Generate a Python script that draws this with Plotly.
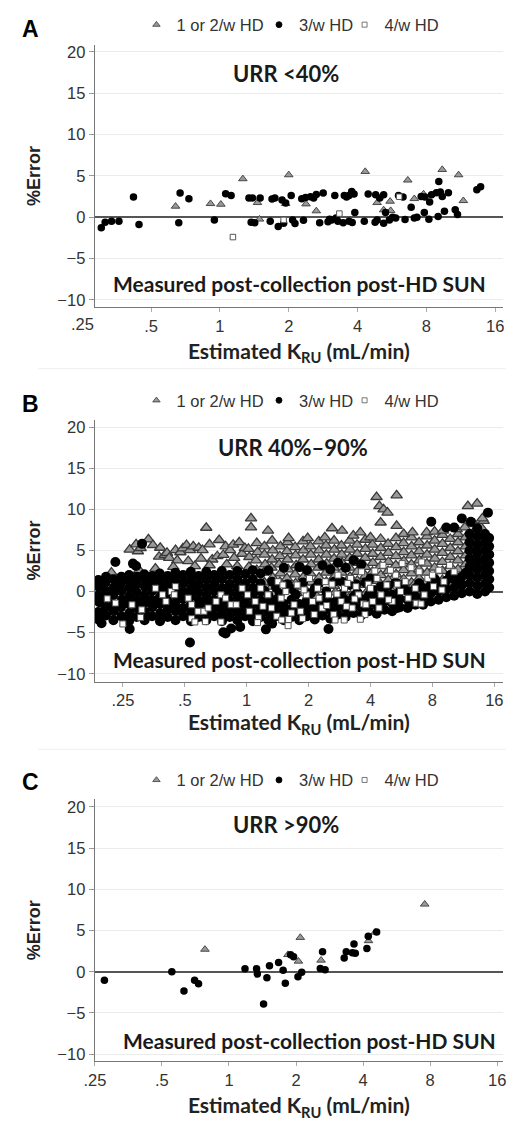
import plotly.graph_objects as go

# ---------------- data (x = estimated KRU mL/min, y = %Error) ----------------
SERIES = ["1 or 2/w HD", "3/w HD", "4/w HD"]
PANEL_LETTERS = ["A", "B", "C"]
PANEL_TITLES = ["URR &lt;40%", "URR 40%–90%", "URR &gt;90%"]
NOTE = "Measured post-collection post-HD SUN"
X_TICKS = [0.25, 0.5, 1, 2, 4, 8, 16]
X_TICKTEXT = [".25", ".5", "1", "2", "4", "8", "16"]
Y_TICKS = [-10, -5, 0, 5, 10, 15, 20]

# Panel A: URR <40%
A_TRI = [(0.64, 1.32), (0.91, 1.64), (1.01, 1.56), (1.26, 4.64), (1.46, 1.76), (1.49, -0.24),
         (2.0, 5.12), (1.94, 1.64), (2.38, 1.6), (2.64, 0.76), (4.32, 5.52), (4.87, 1.76),
         (5.2, 0.88), (5.55, 1.92), (5.58, 0.8), (6.63, 4.48), (7.08, 2.24), (7.77, 2.8),
         (9.38, 5.76), (11.06, 5.12), (11.6, 2.0)]
A_DOT = [(0.303, -1.28), (0.315, -0.6), (0.336, -0.48), (0.362, -0.48), (0.419, 2.44), (0.443, -0.88),
         (0.661, -0.68), (0.67, 2.92), (0.732, 2.24), (0.946, -0.32), (1.06, 2.84), (1.12, 2.64),
         (1.34, 2.32), (1.39, 2.32), (1.37, -0.6), (1.42, -0.68), (1.5, 2.32), (1.66, -0.48),
         (1.69, 2.2), (1.74, 2.32), (1.8, -1.12), (1.87, 2.08), (1.9, -0.72), (1.94, 1.72),
         (2.05, 2.64), (2.08, -0.32), (2.13, -0.76), (2.28, 2.24), (2.32, -0.36), (2.37, 2.4),
         (2.49, 2.48), (2.57, 2.32), (2.64, 2.76), (2.73, -0.68), (2.83, 2.92), (2.97, -0.56),
         (3.02, -0.24), (3.08, -0.32), (3.18, 2.64), (3.22, -0.08), (3.28, -0.48), (3.46, -0.68),
         (3.5, 2.64), (3.58, 2.44), (3.67, 2.64), (3.67, -0.48), (3.77, 3.12), (3.79, -0.64),
         (3.89, 0.56), (3.86, 2.8), (4.28, -0.48), (4.45, 2.8), (4.77, -0.6), (4.8, 2.72),
         (4.87, -0.32), (5.0, 2.32), (5.2, 2.72), (5.2, -0.72), (5.3, 0.56), (5.51, -0.32),
         (5.69, 0.0), (5.87, -0.08), (6.04, 2.64), (6.32, 2.44), (6.45, -0.28), (6.86, 1.2),
         (7.08, -0.08), (7.27, 0.0), (7.59, 2.52), (7.83, 0.56), (7.88, 2.44), (8.2, -0.24),
         (8.26, 1.84), (8.42, 2.72), (8.84, 2.96), (9.0, 0.08), (9.06, 4.32), (9.2, 3.04),
         (9.38, 2.52), (9.59, 0.72), (9.98, 2.96), (10.69, 0.92), (10.94, 0.32), (13.29, 3.32),
         (13.8, 3.68)]
A_SQ = [(1.14, -2.4), (3.33, 0.44), (1.9, -0.32), (6.08, 2.48)]

# Panel B: URR 40%-90%
B_TRI = [
    # sparse triangles above the band at low KRU
    (0.27, 5.1), (0.29, 5.74), (0.296, 4.9), (0.305, 5.3), (0.333, 6.35), (0.35, 5.66), (0.38, 5.33),
    (0.375, 4.24), (0.4, 4.45), (0.41, 4.7), (0.42, 4.1), (0.451, 5.05), (0.46, 3.8), (0.476, 4.78),
    (0.49, 5.26), (0.51, 5.66), (0.52, 3.7), (0.53, 5.05), (0.55, 5.5), (0.585, 5.33), (0.6, 4.0),
    (0.61, 5.05), (0.636, 7.76), (0.66, 5.74), (0.68, 3.9), (0.72, 4.3), (0.735, 6.27), (0.77, 4.45),
    (0.79, 5.5), (0.83, 5.05), (0.86, 5.7), (0.87, 4.1), (0.92, 6.0), (0.95, 4.6), (0.98, 5.3),
    (0.22, 2.3), (0.3, 2.6), (0.36, 2.8), (0.44, 3.0), (0.56, 3.1), (0.66, 3.2), (0.8, 3.3), (0.9, 3.1),
    # dense triangles
    (1.026, 3.0), (1.03, 4.2), (1.02, 5.2),
    (1.12, 2.6), (1.11, 3.8), (1.13, 4.8), (1.12, 5.9),
    (1.22, 1.1), (1.21, 2.3), (1.23, 3.3), (1.22, 4.5), (1.22, 5.5),
    (1.33, 0.6), (1.34, 1.7), (1.32, 2.9), (1.33, 3.9), (1.34, 5.0), (1.33, 6.2),
    (1.45, 1.2), (1.46, 2.2), (1.44, 3.3), (1.45, 4.3), (1.46, 5.5),
    (1.58, 0.5), (1.57, 1.6), (1.59, 2.7), (1.58, 3.9), (1.57, 4.9), (1.58, 6.0),
    (1.73, 1.0), (1.72, 2.1), (1.74, 3.2), (1.73, 4.4), (1.72, 5.4),
    (1.88, 0.6), (1.89, 1.8), (1.87, 2.8), (1.88, 3.9), (1.89, 5.0), (1.88, 6.1),
    (2.05, 1.1), (2.04, 2.2), (2.06, 3.3), (2.05, 4.5), (2.04, 5.5),
    (2.24, 0.6), (2.25, 1.7), (2.23, 2.9), (2.24, 3.9), (2.25, 5.0), (2.24, 6.1),
    (2.44, 1.2), (2.43, 2.3), (2.45, 3.4), (2.44, 4.5), (2.43, 5.6),
    (2.66, 0.7), (2.67, 1.8), (2.65, 2.9), (2.66, 4.0), (2.67, 5.1), (2.66, 6.2),
    (2.9, 1.2), (2.89, 2.3), (2.91, 3.5), (2.9, 4.5), (2.89, 5.6),
    (3.17, 0.7), (3.18, 1.8), (3.16, 2.9), (3.17, 4.1), (3.18, 5.1), (3.17, 6.2),
    (3.45, 1.3), (3.44, 2.4), (3.46, 3.5), (3.45, 4.6), (3.44, 5.7),
    (3.77, 0.8), (3.78, 1.9), (3.76, 3.0), (3.77, 4.1), (3.78, 5.2), (3.77, 6.3),
    (4.1, 1.3), (4.09, 2.4), (4.11, 3.5), (4.1, 4.6), (4.09, 5.7),
    (4.48, 0.9), (4.49, 2.0), (4.47, 3.1), (4.48, 4.2), (4.49, 5.3), (4.48, 6.4),
    (4.88, 1.4), (4.87, 2.5), (4.89, 3.6), (4.88, 4.7), (4.87, 5.8),
    (5.32, 1.0), (5.33, 2.1), (5.31, 3.2), (5.32, 4.3), (5.33, 5.4), (5.32, 6.5),
    (5.8, 1.5), (5.79, 2.6), (5.81, 3.7), (5.8, 4.8), (5.79, 5.9),
    (6.33, 1.1), (6.34, 2.2), (6.32, 3.3), (6.33, 4.4), (6.34, 5.5), (6.33, 6.6),
    (6.9, 1.6), (6.89, 2.7), (6.91, 3.8), (6.9, 4.9), (6.89, 6.0),
    (7.53, 1.2), (7.54, 2.3), (7.52, 3.4), (7.53, 4.5), (7.54, 5.6), (7.53, 6.7),
    (8.21, 1.8), (8.2, 2.9), (8.22, 4.0), (8.21, 5.1), (8.2, 6.2),
    (8.95, 1.4), (8.96, 2.5), (8.94, 3.6), (8.95, 4.7), (8.96, 5.8), (8.95, 6.9),
    (9.77, 2.0), (9.76, 3.1), (9.78, 4.2), (9.77, 5.3), (9.76, 6.4),
    (10.65, 1.6), (10.66, 2.7), (10.64, 3.8), (10.65, 4.9), (10.66, 6.0), (10.65, 7.0),
    (11.62, 2.2), (11.61, 3.3), (11.63, 4.4), (11.62, 5.5), (11.61, 6.6),
    (12.67, 2.8), (12.68, 3.9), (12.66, 5.0), (12.67, 6.1), (12.68, 7.2),
    (13.8, 3.4), (13.79, 4.5), (13.81, 5.6), (13.8, 6.7), (13.79, 7.8),
    # ragged top edge and lower stragglers
    (2.4, 6.6), (3.3, 6.8), (4.0, 6.6), (5.8, 7.0), (6.4, 7.2), (7.5, 7.2), (8.2, 7.3), (9.0, 7.4),
    (10.5, 7.6), (11.5, 7.8), (12.8, 8.2), (14.2, 8.6),
    (1.35, -0.5), (1.75, -0.2), (2.2, -0.6), (2.7, -0.1), (3.2, -0.5), (3.8, -0.2), (4.4, 0.1),
    (5.0, 0.3), (5.7, 0.5), (6.5, 0.8),
    # high outliers
    (1.05, 8.9), (1.05, 7.8), (1.27, 7.4), (1.6, 6.5), (1.98, 6.5), (2.6, 7.7), (2.91, 7.4),
    (3.57, 7.2), (4.28, 11.5), (4.42, 10.4), (4.63, 10.0), (4.84, 9.6), (4.48, 8.4), (5.36, 11.7),
    (5.36, 8.0), (11.9, 10.4), (13.2, 10.7), (14.0, 8.9)]

B_DOT = [
    (0.19, -3.4), (0.19, -2.5), (0.192, -1.3), (0.19, -0.5), (0.191, 0.6), (0.19, 1.4),
    (0.207, -2.9), (0.206, -1.9), (0.208, -0.8), (0.207, 0.1), (0.206, 1.1), (0.207, 1.8),
    (0.225, -3.5), (0.226, -2.4), (0.224, -1.5), (0.225, -0.4), (0.226, 0.5), (0.225, 1.5), (0.23, 3.6),
    (0.246, -3.0), (0.245, -1.9), (0.247, -1.0), (0.246, 0.1), (0.245, 1.0), (0.246, 1.8),
    (0.268, -3.6), (0.269, -2.6), (0.267, -1.5), (0.268, -0.6), (0.269, 0.5), (0.268, 1.4), (0.268, 2.0), (0.28, 3.4),
    (0.292, -3.1), (0.291, -2.0), (0.293, -1.1), (0.292, -0.1), (0.291, 0.9), (0.292, 1.8), (0.29, 3.1),
    (0.319, -3.5), (0.32, -2.5), (0.318, -1.4), (0.319, -0.5), (0.32, 0.6), (0.319, 1.5), (0.318, 2.1), (0.31, 5.8),
    (0.347, -3.0), (0.348, -1.9), (0.346, -1.0), (0.347, 0.1), (0.348, 1.0), (0.347, 1.9),
    (0.379, -3.6), (0.38, -2.6), (0.378, -1.5), (0.379, -0.6), (0.38, 0.4), (0.379, 1.4), (0.378, 2.2),
    (0.413, -3.1), (0.414, -2.1), (0.412, -1.1), (0.413, 0.0), (0.414, 0.9), (0.413, 1.9),
    (0.451, -3.5), (0.452, -2.4), (0.45, -1.5), (0.451, -0.5), (0.452, 0.6), (0.451, 1.5), (0.45, 2.3),
    (0.491, -3.0), (0.492, -2.0), (0.49, -0.9), (0.491, 0.0), (0.492, 1.0), (0.491, 2.0),
    (0.536, -3.6), (0.537, -2.6), (0.535, -1.6), (0.536, -0.5), (0.537, 0.4), (0.536, 1.4), (0.535, 2.4),
    (0.584, -3.1), (0.585, -2.0), (0.583, -1.1), (0.584, -0.1), (0.585, 0.9), (0.584, 1.9),
    (0.637, -3.5), (0.638, -2.5), (0.636, -1.4), (0.637, -0.5), (0.638, 0.5), (0.637, 1.5), (0.636, 2.4),
    (0.695, -3.0), (0.696, -2.0), (0.694, -1.0), (0.695, 0.1), (0.696, 1.0), (0.695, 2.0),
    (0.758, -3.6), (0.759, -2.6), (0.757, -1.6), (0.758, -0.6), (0.759, 0.4), (0.758, 1.5), (0.757, 2.5),
    (0.827, -3.1), (0.828, -2.1), (0.826, -1.1), (0.827, -0.1), (0.828, 0.9), (0.827, 2.0),
    (0.901, -3.5), (0.902, -2.5), (0.9, -1.5), (0.901, -0.5), (0.902, 0.5), (0.901, 1.5), (0.9, 2.5),
    (0.983, -3.0), (0.984, -2.0), (0.982, -1.0), (0.983, 0.0), (0.984, 1.0), (0.983, 2.1),
    (1.072, -3.6), (1.073, -2.6), (1.071, -1.6), (1.072, -0.6), (1.073, 0.4), (1.072, 1.5), (1.071, 2.6),
    (1.169, -3.1), (1.17, -2.1), (1.168, -1.1), (1.169, 0.0), (1.17, 1.0), (1.169, 2.2),
    (1.275, -3.5), (1.276, -2.5), (1.274, -1.5), (1.275, -0.5), (1.276, 2.6),
    (1.39, -3.0), (1.391, -2.0), (1.389, -1.0), (1.39, 0.5),
    (1.516, -3.5), (1.517, -2.5), (1.515, -1.5), (1.516, 2.9),
    (1.653, -3.1), (1.654, -2.1), (1.652, -1.0), (1.653, 0.3),
    (1.803, -3.5), (1.804, -2.5), (1.802, -1.5), (1.803, 3.0),
    (1.966, -3.0), (1.967, -2.0), (1.965, -1.0), (1.966, 2.6),
    (2.144, -3.4), (2.145, -2.4), (2.143, -1.4), (2.144, 0.4),
    (2.338, -2.9), (2.339, -1.9), (2.337, -0.9), (2.338, 3.2),
    (2.549, -3.3), (2.55, -2.3), (2.548, -1.3), (2.549, 2.7),
    (2.78, -2.8), (2.781, -1.8), (2.779, -0.8), (2.78, 3.5),
    (3.031, -3.1), (3.032, -2.1), (3.03, -1.1), (3.031, 2.9),
    (3.306, -2.6), (3.307, -1.6), (3.305, -0.6), (3.306, 3.8),
    (3.605, -2.9), (3.606, -1.9), (3.604, -0.9), (3.605, 3.3),
    (3.931, -2.4), (3.932, -1.4), (3.93, -0.4),
    (4.287, -2.7), (4.288, -1.7), (4.286, -0.7),
    (4.675, -2.2), (4.676, -1.2), (4.674, -0.2),
    (5.098, -2.4), (5.099, -1.4), (5.097, -0.4),
    (5.56, -1.9), (5.561, -0.9), (5.559, 0.1), (5.4, -2.0),
    (6.063, -2.0), (6.064, -1.0), (6.062, 0.0),
    (6.612, -1.6), (6.613, -0.6), (6.611, 0.4),
    (7.21, -1.6), (7.211, -0.6), (7.209, 0.4),
    (7.863, -1.2), (7.864, -0.2), (7.862, 0.8),
    (8.574, -1.0), (8.575, 0.0), (8.573, 1.0),
    (9.35, -0.7), (9.351, 0.3), (9.349, 1.3), (9.35, 7.8),
    (10.2, -0.5), (10.21, 0.5), (10.19, 1.5), (10.2, 7.8),
    (11.12, -0.2), (11.13, 0.8), (11.11, 1.8), (11.12, 8.9),
    (12.13, 0.0), (12.14, 1.0), (12.12, 2.0), (12.13, 3.0), (12.14, 4.0), (12.12, 5.0), (12.13, 6.0), (12.14, 7.0), (12.3, 8.5),
    (13.22, -0.3), (13.23, 0.7), (13.21, 1.7), (13.22, 2.7), (13.23, 3.7), (13.21, 4.7), (13.22, 5.7), (13.23, 6.7), (13.22, 7.7),
    (14.42, 0.0), (14.43, 1.0), (14.41, 2.0), (14.42, 3.0), (14.43, 4.0), (14.41, 5.0), (14.42, 6.0), (14.43, 7.0),
    (15.1, 0.5), (15.11, 1.5), (15.09, 2.5), (15.1, 3.5), (15.11, 4.5), (15.09, 5.5), (15.1, 6.5), (14.9, 9.6),
    # middle of the band, mixed with the other schedules
    (1.22, 0.1), (1.33, 1.2), (1.45, -0.3), (1.58, 0.9), (1.73, -0.4), (1.88, 1.1), (2.05, -0.2),
    (2.24, 1.0), (2.44, 0.0), (2.66, 1.2), (2.9, -0.3), (3.17, 0.8), (3.45, -0.1), (3.77, 1.1),
    (4.1, 0.2), (4.48, -0.9), (4.88, 0.7), (5.32, -0.5), (5.8, 0.9), (6.33, -0.2), (6.9, 1.0),
    (7.53, 0.2), (8.21, 1.5), (8.95, 0.6), (9.77, 2.0), (10.65, 1.2), (11.62, 2.3),
    # streaks and outliers
    (2.9, 1.2), (3.4, 0.9), (4.0, 1.6), (4.5, 0.6), (5.3, 1.1),
    (0.197, -3.86), (0.27, -4.55), (0.53, -6.2), (0.77, -4.95), (0.79, -5.1), (0.84, -4.5),
    (0.93, -4.3), (1.24, -4.6), (1.33, -3.9), (2.5, -4.55), (7.9, 8.5)]

B_SQ = [
    (0.25, -3.94), (0.23, -1.4), (0.277, -1.61), (0.309, -2.22), (0.305, -3.15), (0.36, 0.4), (0.39, -0.39),
    (0.405, -1.2), (0.43, 0.0), (0.445, -0.39), (0.45, 0.6), (0.52, -0.8), (0.54, -1.6), (0.58, -2.4),
    (0.54, -3.3), (0.62, -2.4), (0.65, -2.0), (0.71, -1.2), (0.75, -0.4), (0.79, -0.8), (0.84, -1.6),
    (0.75, -3.7), (0.56, -3.7), (0.63, -3.66), (0.89, -1.6), (0.95, 0.4), (0.21, -0.88),
    (1.01, -0.4), (1.1, -1.2), (1.17, 0.4), (1.27, -0.4), (1.32, -2.0), (1.42, 1.2), (1.47, -0.8),
    (1.55, 0.0), (1.7, -1.6), (1.76, 0.8), (1.83, -2.4), (1.95, -0.4), (2.02, 1.6), (2.09, -1.2),
    (2.21, 0.4), (2.33, -2.0), (2.41, 1.2), (2.5, -0.4), (2.65, -2.8), (2.78, 2.0), (2.88, -1.2),
    (2.99, 0.4), (3.2, 1.6), (3.26, -2.0), (3.49, -0.4), (3.62, 2.4), (3.76, -2.8), (1.03, -2.4),
    (1.14, -3.2), (1.4, -3.0), (1.6, -3.4), (1.87, -3.3), (2.13, -2.8), (1.13, -3.78), (1.59, -4.15),
    (1.48, -3.46), (2.69, -3.46), (2.98, -3.46), (3.57, -3.37), (1.2, -1.8), (1.5, 0.8), (1.65, -2.6),
    (1.9, 0.2), (2.25, -0.8), (2.45, -1.7), (2.6, 0.9), (2.75, -0.3), (3.05, -1.8), (3.1, 1.0),
    (3.35, -0.9), (3.4, 0.6), (3.7, -1.5), (3.9, 0.9),
    (4.0, 0.4), (4.3, 1.6), (4.5, -0.4), (4.8, 0.8), (5.1, -1.2), (5.3, 2.0), (5.6, 0.0), (5.9, 1.2),
    (6.1, -0.8), (6.6, 0.4), (6.9, 2.4), (7.3, -0.4), (7.6, 1.6), (8.1, 0.6), (8.6, 2.6), (9.1, 1.2),
    (9.7, 3.2), (6.67, -1.42), (7.05, -1.5), (4.1, -1.2), (3.8, -1.6), (5.7, 3.4), (4.6, 3.2),
    (7.1, 3.6), (4.4, -2.0), (4.9, -1.0), (5.4, 0.9), (6.3, 2.9), (8.0, 2.0), (8.9, 0.2), (10.2, 2.4),
    (4.2, 2.5), (5.0, 2.6)]

# Panel C: URR >90%
C_TRI = [(0.78, 2.72), (1.84, 2.08), (2.09, 4.16), (2.05, 1.28), (2.59, 1.4), (4.23, 3.76),
         (4.53, 4.8), (7.56, 8.2)]
C_DOT = [(0.276, -1.04), (0.554, 0.0), (0.628, -2.32), (0.701, -1.04), (0.73, -1.44), (1.18, 0.36),
         (1.33, 0.36), (1.34, -0.28), (1.48, -0.72), (1.43, -3.92), (1.52, 0.72), (1.67, 1.12),
         (1.75, 0.2), (1.79, -1.4), (1.89, 2.08), (1.95, 1.84), (2.04, -0.6), (2.12, -0.04),
         (2.57, 0.4), (2.63, 2.44), (2.7, 0.24), (3.29, 1.68), (3.36, 2.44), (3.64, 3.36),
         (3.58, 2.32), (3.69, 2.24), (4.16, 2.84), (4.22, 4.32), (4.6, 4.84)]
C_SQ = []

# ---------------- layout geometry (pixels in a 509 x 1121 page) ----------------
W, H = 509, 1121


def fx(p):
    return p / W


def fy(p):
    return 1 - p / H


PANELS = [
    dict(tri=A_TRI, dot=A_DOT, sq=A_SQ, top=43, bot=306, yr=[-10.84, 20.84], xr=[-0.5476, 1.2382],
         legend_y=23, letter_y=27, title_xy=(0.469, 0.89), note_xy=(0.502, 0.0875),
         dot_size=7.5, tri_size=7.5, tri_lw=0.9, sq_size=5.5, tstand=10, outside_25=True),
    dict(tri=B_TRI, dot=B_DOT, sq=B_SQ, top=419, bot=682, yr=[-10.95, 20.93], xr=[-0.7392, 1.2467],
         legend_y=400, letter_y=403, title_xy=(0.486, 0.894), note_xy=(0.502, 0.084),
         dot_size=10, tri_size=10, tri_lw=1.3, sq_size=6, tstand=0, outside_25=False),
    dict(tri=C_TRI, dot=C_DOT, sq=C_SQ, top=800, bot=1063, yr=[-10.85, 20.95], xr=[-0.6030, 1.2303],
         legend_y=781, letter_y=783, title_xy=(0.469, 0.905), note_xy=(0.526, 0.08),
         dot_size=7.5, tri_size=7.5, tri_lw=0.9, sq_size=5.5, tstand=10, outside_25=False),
]
LEGEND_X = [129, 255, 343]   # left edge of each legend entry (px)

TRI_FILL, TRI_LINE = "#999999", "#3a3a3a"
SQ_LINE = "#555555"
TICK_FONT = dict(family="Liberation Sans, Arial", size=16.5, color="#333333")
CAL = "Lato, Open Sans, sans-serif"

fig = go.Figure()
annotations = []
legends = {}
for i, p in enumerate(PANELS):
    k = "" if i == 0 else str(i + 1)
    xa, ya = "x" + k, "y" + k
    specs = [
        (SERIES[0], p["tri"], "triangle-up", p["tri_size"], 6.5, TRI_FILL, dict(color=TRI_LINE, width=p["tri_lw"])),
        (SERIES[1], p["dot"], "circle", p["dot_size"], 6, "#000000", dict(width=0)),
        (SERIES[2], p["sq"], "square", p["sq_size"], 5, "#ffffff", dict(color=SQ_LINE, width=1)),
    ]
    for j, (name, pts, sym, size, leg_size, fill, line) in enumerate(specs):
        n = 3 * i + j + 1
        leg = "legend" if n == 1 else "legend%d" % n
        grp = "%s_%s" % (PANEL_LETTERS[i], name)
        fig.add_trace(go.Scatter(
            x=[q[0] for q in pts], y=[q[1] for q in pts], mode="markers", name=name,
            marker=dict(symbol=sym, size=size, color=fill, line=line),
            xaxis=xa, yaxis=ya, legend=leg, legendgroup=grp, showlegend=False, hoverinfo="x+y"))
        # legend key (small symbol, as in the original legend)
        fig.add_trace(go.Scatter(
            x=[None], y=[None], mode="markers", name=name,
            marker=dict(symbol=sym, size=leg_size, color=fill, line=dict(color=line.get("color", fill), width=0.8)),
            xaxis=xa, yaxis=ya, legend=leg, legendgroup=grp, showlegend=True))
        legends[leg] = dict(
            orientation="h", x=fx(LEGEND_X[j]), y=fy(p["legend_y"]), xanchor="left", yanchor="middle",
            font=dict(family="Liberation Sans, Arial", size=16.5, color="#333333"),
            bgcolor="rgba(0,0,0,0)", itemwidth=30)

    fig.layout["xaxis" + k] = dict(
        type="log", range=p["xr"], domain=[fx(86), fx(506)], anchor=ya,
        tickvals=X_TICKS, ticktext=X_TICKTEXT, tickfont=TICK_FONT,
        ticks="outside", ticklen=4, tickcolor="#aaaaaa", showgrid=False, zeroline=False,
        showline=True, linecolor="#777777", linewidth=1,
        title=dict(text="<b>Estimated K<sub>RU</sub> (mL/min)</b>",
                   font=dict(family=CAL, size=21, color="#222222"), standoff=p["tstand"]))
    fig.layout["yaxis" + k] = dict(
        range=p["yr"], domain=[fy(p["bot"]), fy(p["top"])], anchor=xa,
        tickvals=Y_TICKS, tickfont=TICK_FONT, ticks="outside", ticklen=5, tickcolor="#999999",
        showgrid=True, gridcolor="#ebebeb", gridwidth=1,
        zeroline=True, zerolinecolor="#555555", zerolinewidth=1.5,
        showline=True, linecolor="#777777", linewidth=1,
        title=dict(text="<b>%Error</b>", font=dict(family="Liberation Sans, Arial", size=18, color="#222222"),
                   standoff=12))

    if p["outside_25"]:
        # the .25 label sits left of where the y axis crosses the x axis
        log_span = p["xr"][1] - p["xr"][0]
        px25 = 86 + (-0.60206 - p["xr"][0]) / log_span * 420
        annotations.append(dict(text=X_TICKTEXT[0], xref="paper", yref="paper", x=fx(px25),
                                y=fy(p["bot"] + 17), showarrow=False, xanchor="center", yanchor="middle",
                                font=TICK_FONT))

    annotations.append(dict(text="<b>%s</b>" % PANEL_LETTERS[i], xref="paper", yref="paper",
                            x=fx(20), y=fy(p["letter_y"]), showarrow=False, xanchor="center", yanchor="middle",
                            font=dict(family="Liberation Sans, Arial", size=23, color="#000000")))
    annotations.append(dict(text="<b>%s</b>" % PANEL_TITLES[i], xref=xa + " domain", yref=ya + " domain",
                            x=p["title_xy"][0], y=p["title_xy"][1], showarrow=False,
                            xanchor="center", yanchor="middle",
                            font=dict(family=CAL, size=22, color="#1a1a1a")))
    annotations.append(dict(text="<b>%s</b>" % NOTE, xref=xa + " domain", yref=ya + " domain",
                            x=p["note_xy"][0], y=p["note_xy"][1], showarrow=False,
                            xanchor="center", yanchor="middle",
                            font=dict(family=CAL, size=21, color="#1a1a1a")))

shapes = [dict(type="line", xref="paper", yref="paper", x0=fx(28), x1=1, y0=fy(yy), y1=fy(yy),
               line=dict(color="#eeeeee", width=1)) for yy in (368, 750)]

fig.update_layout(
    width=W, height=H, margin=dict(l=0, r=0, t=0, b=0),
    paper_bgcolor="#ffffff", plot_bgcolor="#ffffff",
    annotations=annotations, shapes=shapes, hovermode="closest", **legends)

fig.write_html("out.html", config={"displayModeBar": False},
               post_script="document.body.style.margin='0px';document.body.style.overflow='hidden';")
